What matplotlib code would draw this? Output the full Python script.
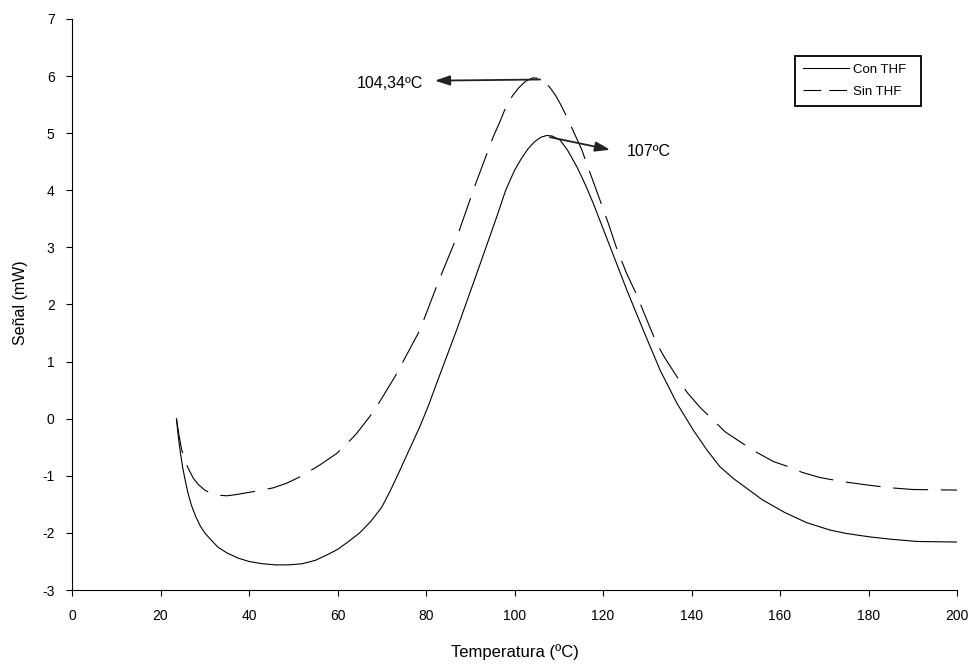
import matplotlib
matplotlib.use('Agg')
import matplotlib.pyplot as plt
from matplotlib.lines import Line2D

plt.rcParams['font.family'] = ['Liberation Sans', 'DejaVu Sans']
plt.rcParams['axes.unicode_minus'] = False

# Con THF (solid line)
x_con = [23.6, 24.0, 24.5, 25.0, 25.5, 26.2, 27.0, 28.0, 29.0, 30.0, 31.5, 33.0, 35.0, 37.5,
         40.0, 43.0, 46.0, 49.0, 52.0, 55.0, 57.5, 60.0, 62.5, 65.0, 67.5, 70.0, 72.0, 74.0,
         76.0, 78.6, 80.5, 82.4, 86.9, 91.5, 96.0, 98.0, 100.0, 101.5, 103.0, 104.5, 106.0,
         107.3, 108.5, 110.3, 112.0, 114.1, 116.0, 117.8, 121.6, 125.4, 129.1, 132.9, 136.7,
         140.4, 143.5, 146.4, 149.5, 152.5, 156.0, 161.0, 166.0, 171.3, 175.0, 180.3, 185.0,
         190.9, 200.0]
y_con = [0.0, -0.3, -0.6, -0.85, -1.05, -1.3, -1.52, -1.72, -1.88, -2.0, -2.13, -2.25, -2.35, -2.44,
         -2.5, -2.54, -2.56, -2.56, -2.54, -2.48, -2.39, -2.29, -2.15, -2.0, -1.8, -1.55, -1.25, -0.92,
         -0.58, -0.14, 0.22, 0.62, 1.55, 2.55, 3.54, 4.0, 4.35, 4.55, 4.72, 4.85, 4.93,
         4.96, 4.95, 4.88, 4.7, 4.41, 4.1, 3.77, 3.01, 2.25, 1.55, 0.85, 0.27,
         -0.20, -0.55, -0.84, -1.05, -1.22, -1.42, -1.64, -1.82, -1.95, -2.01, -2.07, -2.11,
         -2.15, -2.16]

# Sin THF (dashed line)
x_sin = [23.6, 24.2, 24.8, 25.5, 26.2, 27.4, 28.5, 30.0, 31.5, 33.0, 35.0, 37.0, 40.0, 43.0,
         45.5, 48.5, 52.0, 56.0, 59.8, 62.0, 64.3, 66.2, 68.1, 70.5, 73.0, 75.5, 78.6, 82.8,
         87.3, 91.1, 95.2, 96.7, 98.0, 99.5, 100.9, 102.5, 104.2, 105.5, 106.5, 108.0, 109.2,
         110.3, 111.8, 113.5, 115.2, 116.3, 119.3, 121.2, 123.1, 125.3, 127.6, 129.8, 132.1,
         134.0, 136.5, 138.9, 141.9, 147.6, 150.9, 154.5, 158.5, 161.5, 165.0, 169.0, 174.0,
         179.6, 185.0, 190.0, 200.0]
y_sin = [0.0, -0.3, -0.55, -0.72, -0.86, -1.04, -1.15, -1.25, -1.31, -1.34, -1.35, -1.33, -1.29, -1.25,
         -1.21, -1.13, -1.0, -0.81, -0.61, -0.45, -0.26, -0.07, 0.12, 0.42, 0.74, 1.1, 1.55, 2.4,
         3.25, 4.09, 4.94, 5.2, 5.45, 5.65, 5.79, 5.91, 5.97, 5.96, 5.93, 5.8, 5.67,
         5.52, 5.29, 5.0, 4.71, 4.47, 3.83, 3.42, 2.98, 2.55, 2.17, 1.75, 1.32,
         1.06, 0.76, 0.47, 0.2, -0.23, -0.40, -0.58, -0.75, -0.83, -0.94, -1.03, -1.1,
         -1.16, -1.21, -1.24, -1.25]

fig = plt.figure(figsize=(9.73, 6.66), dpi=100)
ax = fig.add_axes([0.074, 0.1141, 0.9096, 0.8574])

lw = 0.8
ax.plot(x_con, y_con, color='black', lw=lw)
ax.plot(x_sin, y_sin, color='black', lw=lw, dashes=(31.5, 11.5))

# arrows marking the peaks
arrow = dict(arrowstyle='-|>,head_length=0.9,head_width=0.3', color='#222222', lw=1.3,
             shrinkA=0, shrinkB=0)
ax.annotate('', xy=(82.0, 5.92), xytext=(105.8, 5.94), arrowprops=arrow)
ax.text(71.9, 5.87, '104,34ºC', fontsize=11.5, ha='center', va='center')
ax.annotate('', xy=(121.6, 4.71), xytext=(108, 4.93), arrowprops=arrow)
ax.text(125.4, 4.68, '107ºC', fontsize=11.5, ha='left', va='center')

ax.set_xlim(0, 200)
ax.set_ylim(-3, 7)
ax.set_xticks(range(0, 201, 20))
ax.set_yticks(range(-3, 8))
ax.spines['top'].set_visible(False)
ax.spines['right'].set_visible(False)
ax.tick_params(direction='out', length=4.5, labelsize=10)
ax.tick_params(axis='x', pad=9)
ax.tick_params(axis='y', pad=8)
ax.set_xlabel('Temperatura (ºC)', fontsize=12)
ax.set_ylabel('Señal (mW)', fontsize=11.5)
ax.xaxis.set_label_coords(0.5006, -0.094)
ax.yaxis.set_label_coords(-0.05, 0.503)

# legend with proxy handles so the short dashes show
h_con = Line2D([], [], color='black', lw=lw)
h_sin = Line2D([], [], color='black', lw=lw, dashes=(16, 7.2))
leg = ax.legend([h_con, h_sin], ['Con THF', 'Sin THF'], loc='upper left',
                bbox_to_anchor=(0.817, 0.849, 0.142, 0.087), mode='expand',
                borderaxespad=0, fontsize=9.5, frameon=True, fancybox=False,
                edgecolor='black', framealpha=1, handlelength=3.5, handletextpad=0.3,
                borderpad=0.6, labelspacing=0.75)
leg.get_frame().set_linewidth(1.3)

fig.savefig('out.png', dpi=100)
